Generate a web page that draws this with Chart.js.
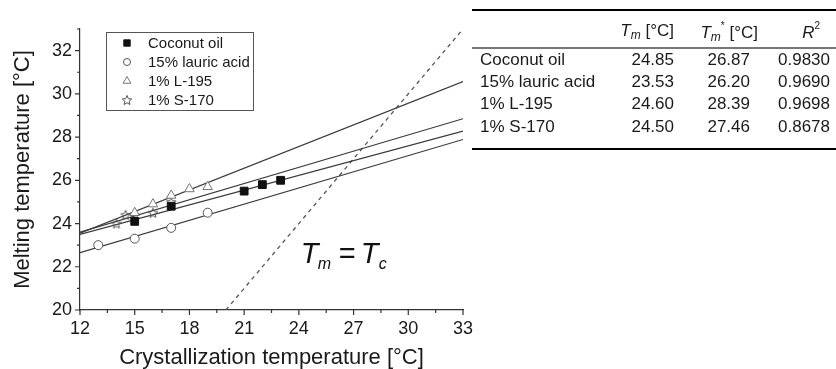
<!DOCTYPE html>
<html>
<head>
<meta charset="utf-8">
<script src="https://cdn.jsdelivr.net/npm/chart.js@4.4.1/dist/chart.umd.min.js"></script>
<style>
  html, body { margin: 0; padding: 0; background: #fff; }
  #wrap { position: relative; width: 836px; height: 369px; }
  #tbl {
    position: absolute; left: 472px; top: 9px; width: 364px;
    border-collapse: collapse; font-family: 'Liberation Sans', Arial, sans-serif;
    font-size: 17px; color: #1a1a1a;
    border-top: 2px solid #000; border-bottom: 2px solid #000;
  }
  #tbl td, #tbl th { padding: 0; white-space: nowrap; }
  #tbl thead th { height: 31px; padding-top: 5px; font-weight: normal; border-bottom: 2px solid #777; text-align: right; }
  #tbl tbody td { height: 22px; text-align: right; }
  #tbl tbody tr:last-child td { height: 31px; vertical-align: top; padding-top: 2px; }
  #tbl td.name { text-align: left; padding-left: 8px; }
  #tbl sub { font-size: 12px; vertical-align: -3px; }
  #tbl sup { font-size: 10px; vertical-align: 9px; }
</style>
</head>
<body>
<div id="wrap">
  <canvas id="chart" width="836" height="369"></canvas>
  <table id="tbl">
    <colgroup>
      <col style="width:148px"><col style="width:54px"><col style="width:86px"><col style="width:76px">
    </colgroup>
    <thead>
      <tr>
        <th></th>
        <th style="padding-right:0"><i>T</i><sub><i>m</i></sub> [°C]</th>
        <th style="padding-right:2px"><i>T</i><sub><i>m</i></sub><sup>*</sup> [°C]</th>
        <th style="padding-right:16px"><i>R</i><sup>2</sup></th>
      </tr>
    </thead>
    <tbody id="tbody"></tbody>
  </table>
</div>
<script>
// scatter data
const coconutX = [15, 17, 21, 22, 23];
const coconutY = [24.1, 24.8, 25.5, 25.8, 26.0];
const lauricX = [13, 15, 17, 19];
const lauricY = [23.0, 23.3, 23.8, 24.5];
const l195X = [15, 16, 17, 18, 19];
const l195Y = [24.5, 24.9, 25.3, 25.6, 25.7];
const s170X = [14, 14.5, 15, 16, 17];
const s170Y = [24.0, 24.4, 24.4, 24.5, 25.0];

// fitted lines (values at x = 12 and x = 33)
const fitX = [12, 33];
const coconutFit = [23.5, 28.28];
const lauricFit = [22.65, 27.89];
const l195Fit = [23.55, 30.57];
const s170Fit = [23.6, 28.85];
// Tm = Tc line
const diagX = [20, 33];
const diagY = [20, 33];

const seriesNames = ['Coconut oil', '15% lauric acid', '1% L-195', '1% S-170'];
const xTicks = [12, 15, 18, 21, 24, 27, 30, 33];
const yTicks = [20, 22, 24, 26, 28, 30, 32];

// table on the right
const tmValues = ['24.85', '23.53', '24.60', '24.50'];
const tmStarValues = ['26.87', '26.20', '28.39', '27.46'];
const r2Values = ['0.9830', '0.9690', '0.9698', '0.8678'];

const tbody = document.getElementById('tbody');
seriesNames.forEach((name, i) => {
    const tr = document.createElement('tr');
    tr.innerHTML = '<td class="name">' + name + '</td><td>' + tmValues[i] +
        '</td><td style="padding-right:10px">' + tmStarValues[i] +
        '</td><td style="padding-right:6px">' + r2Values[i] + '</td>';
    tbody.appendChild(tr);
});

const FONT = "'Liberation Sans', Arial, sans-serif";
Chart.defaults.font.family = FONT;
Chart.defaults.color = '#1a1a1a';

// open five-point star marker
function makeStar(size, color) {
    const c = document.createElement('canvas');
    c.width = size; c.height = size;
    const g = c.getContext('2d');
    const cx = size / 2, cy = size / 2 + 0.5, ro = size / 2 - 1, ri = ro * 0.45;
    g.beginPath();
    for (let k = 0; k < 10; k++) {
        const r = k % 2 === 0 ? ro : ri;
        const a = -Math.PI / 2 + k * Math.PI / 5;
        const px = cx + r * Math.cos(a), py = cy + r * Math.sin(a);
        if (k === 0) g.moveTo(px, py); else g.lineTo(px, py);
    }
    g.closePath();
    g.strokeStyle = color;
    g.lineWidth = 1;
    g.stroke();
    return c;
}
const starImg = makeStar(12, '#555');

const pts = (xs, ys) => xs.map((x, i) => ({ x: x, y: ys[i] }));

const lineDs = (xs, ys, dash) => ({
    data: pts(xs, ys),
    showLine: true,
    pointRadius: 0,
    borderColor: dash ? '#555' : '#3a3a3a',
    borderWidth: dash ? 1.3 : 1.2,
    borderDash: dash ? [4, 4] : [],
    isLegend: false,
    order: 2
});

const markerStyles = [
    { pointStyle: 'rect', pointRadius: 5.5, backgroundColor: '#111', borderColor: '#111', borderWidth: 1 },
    { pointStyle: 'circle', pointRadius: 4.5, backgroundColor: '#fff', borderColor: '#555', borderWidth: 1 },
    { pointStyle: 'triangle', pointRadius: 5.5, backgroundColor: '#fff', borderColor: '#777', borderWidth: 1 },
    { pointStyle: starImg, pointRadius: 6, backgroundColor: '#fff', borderColor: '#555', borderWidth: 1 }
];
const markerData = [pts(coconutX, coconutY), pts(lauricX, lauricY), pts(l195X, l195Y), pts(s170X, s170Y)];

const datasets = [
    lineDs(fitX, coconutFit), lineDs(fitX, lauricFit), lineDs(fitX, l195Fit), lineDs(fitX, s170Fit),
    lineDs(diagX, diagY, true)
];
seriesNames.forEach((name, i) => {
    datasets.push(Object.assign({ label: name, data: markerData[i], showLine: false, isLegend: true, order: 1 }, markerStyles[i]));
});

// axis tick marks (outward), legend box and the Tm = Tc note
const decor = {
    id: 'decor',
    afterDraw(chart) {
        const ctx = chart.ctx;
        const xs = chart.scales.x, ys = chart.scales.y;
        const area = chart.chartArea;
        ctx.save();
        ctx.strokeStyle = '#333';
        ctx.lineWidth = 1.2;
        ctx.beginPath();
        xTicks.forEach((v, i) => {
            const px = xs.getPixelForValue(v);
            ctx.moveTo(px, area.bottom); ctx.lineTo(px, area.bottom + 5);
            if (i < xTicks.length - 1) {
                const mx = xs.getPixelForValue((v + xTicks[i + 1]) / 2);
                ctx.moveTo(mx, area.bottom); ctx.lineTo(mx, area.bottom + 3);
            }
        });
        yTicks.forEach((v, i) => {
            const py = ys.getPixelForValue(v);
            ctx.moveTo(area.left, py); ctx.lineTo(area.left - 5, py);
            const next = i < yTicks.length - 1 ? yTicks[i + 1] : v + 2;
            const my = ys.getPixelForValue((v + next) / 2);
            ctx.moveTo(area.left, my); ctx.lineTo(area.left - 3, my);
        });
        ctx.stroke();

        // legend
        const bx = 106, by = 32, bw = 147, bh = 78;
        ctx.fillStyle = '#fff';
        ctx.fillRect(bx, by, bw, bh);
        ctx.strokeStyle = '#555';
        ctx.lineWidth = 1;
        ctx.strokeRect(bx + 0.5, by + 0.5, bw, bh);
        ctx.font = '15px ' + FONT;
        ctx.textBaseline = 'middle';
        chart.data.datasets.filter(d => d.isLegend).forEach((d, i) => {
            const y = by + 11 + i * 19;
            ctx.fillStyle = d.backgroundColor;
            ctx.strokeStyle = d.borderColor;
            ctx.lineWidth = d.borderWidth;
            Chart.helpers.drawPoint(ctx, {
                pointStyle: d.pointStyle, radius: d.pointRadius - 1, rotation: 0, borderWidth: d.borderWidth
            }, 127, y);
            ctx.fillStyle = '#1a1a1a';
            ctx.textAlign = 'left';
            ctx.fillText(d.label, 148, y + 1);
        });

        // Tm = Tc
        const tx = xs.getPixelForValue(24.1), ty = ys.getPixelForValue(22.17);
        ctx.fillStyle = '#111';
        ctx.textBaseline = 'alphabetic';
        ctx.font = 'italic 29px ' + FONT;
        ctx.fillText('T', tx, ty);
        ctx.font = 'italic 16px ' + FONT;
        ctx.fillText('m', tx + 17, ty + 6);
        ctx.font = '29px ' + FONT;
        ctx.fillText('=', tx + 38, ty);
        ctx.font = 'italic 29px ' + FONT;
        ctx.fillText('T', tx + 60, ty);
        ctx.font = 'italic 16px ' + FONT;
        ctx.fillText('c', tx + 78, ty + 6);
        ctx.restore();
    }
};

new Chart(document.getElementById('chart'), {
    type: 'scatter',
    data: { datasets: datasets },
    options: {
        responsive: false,
        animation: false,
        layout: { padding: { top: 29, right: 373, left: 0, bottom: 0 } },
        plugins: { legend: { display: false }, tooltip: { enabled: false } },
        scales: {
            x: {
                min: 12, max: 33,
                afterBuildTicks: (s) => { s.ticks = xTicks.map(v => ({ value: v })); },
                afterFit: (s) => { s.height = 59; },
                grid: { display: true, drawOnChartArea: false, drawTicks: false },
                border: { display: true, color: '#333', width: 1.2 },
                ticks: { font: { size: 18 }, padding: 8, color: '#1a1a1a', maxRotation: 0 },
                title: {
                    display: true, text: 'Crystallization temperature [°C]',
                    font: { size: 22, lineHeight: 1 }, padding: { top: 0, bottom: 0 }, color: '#1a1a1a'
                }
            },
            y: {
                min: 20, max: 33,
                afterBuildTicks: (s) => { s.ticks = yTicks.map(v => ({ value: v })); },
                afterFit: (s) => { s.width = 80; },
                grid: { display: true, drawOnChartArea: false, drawTicks: false },
                border: { display: true, color: '#333', width: 1.2 },
                ticks: { font: { size: 18 }, padding: 8, color: '#1a1a1a' },
                title: {
                    display: true, text: 'Melting temperature [°C]',
                    font: { size: 22, lineHeight: 1 }, padding: { top: 12, bottom: 0 }, color: '#1a1a1a'
                }
            }
        }
    },
    plugins: [decor]
});
</script>
</body>
</html>
